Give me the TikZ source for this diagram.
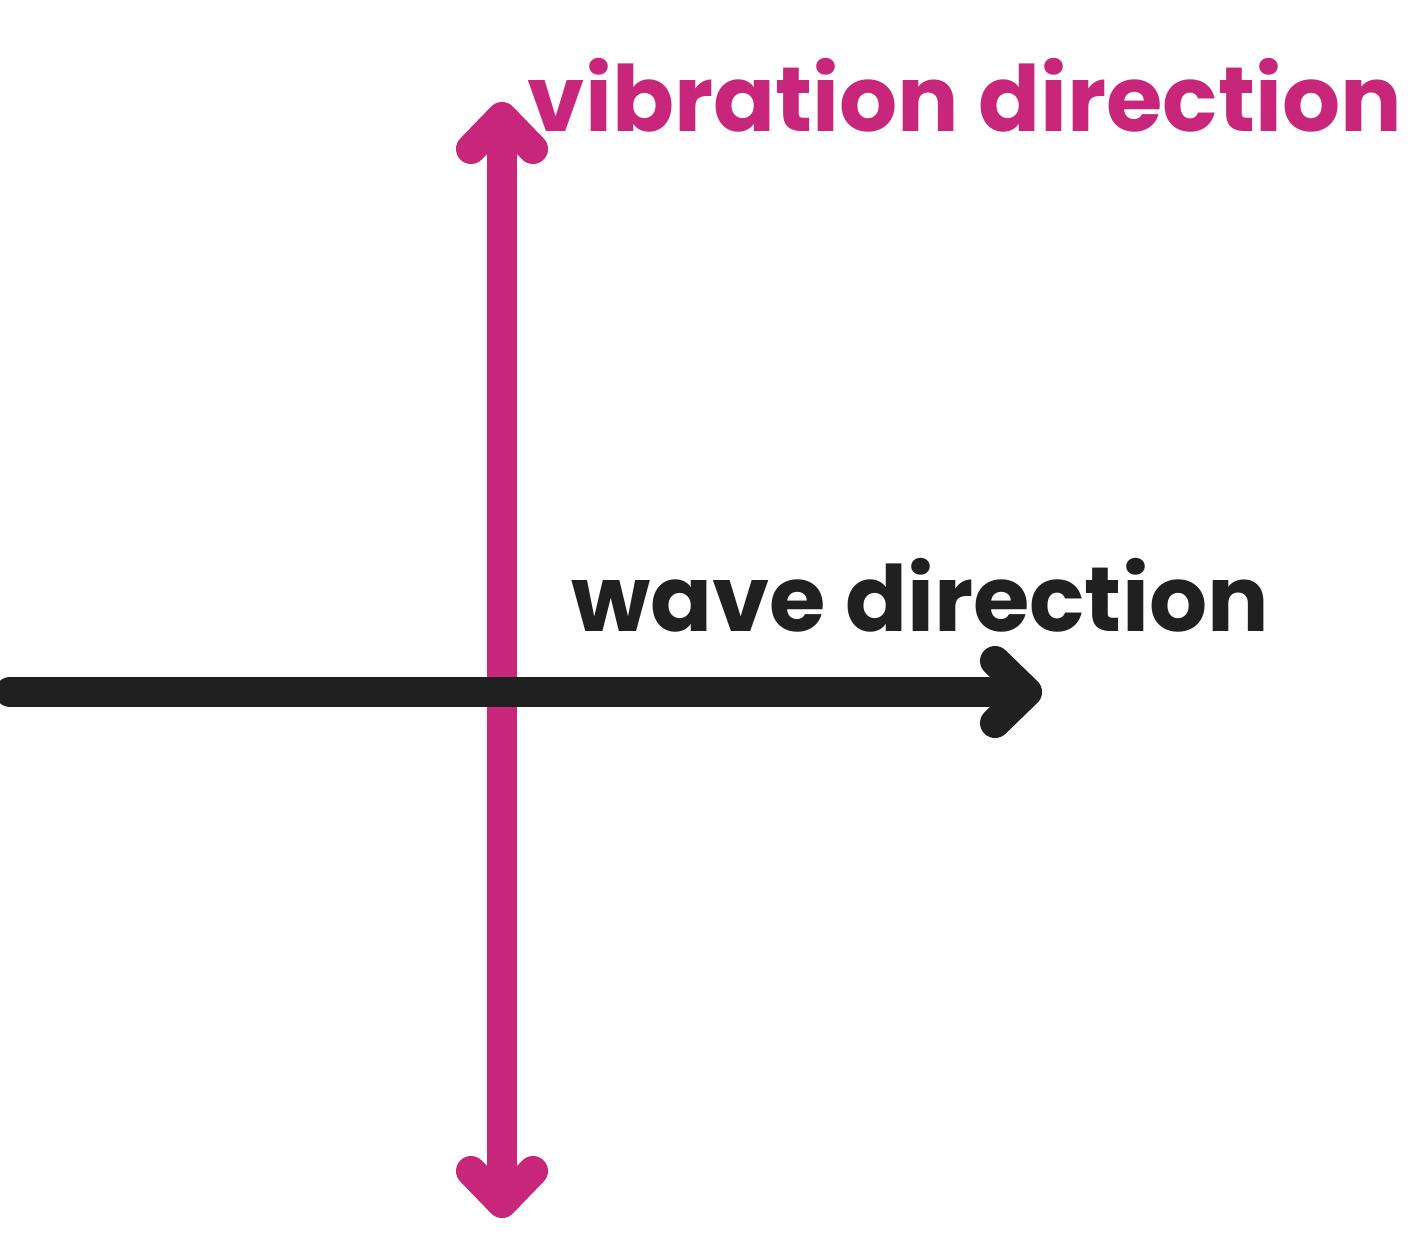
\documentclass[tikz,border=0pt]{standalone}
\usepackage{fontspec}
\setmainfont{Poppins}
\usetikzlibrary{arrows.meta}
\definecolor{vibpink}{HTML}{C8267A}
\definecolor{wavegray}{HTML}{202020}

\tikzset{
  barb/.tip={Straight Barb[round,length=0.32cm,width=0.62cm]},
  axisline/.style={line width=0.3cm, line cap=round},
  handtext/.style={font=\fontsize{26}{31}\selectfont\bfseries, inner sep=0pt}
}

\begin{document}
\begin{tikzpicture}
\useasboundingbox (0,0) rectangle (14.21,12.40);
\coordinate (vtop) at (5.02,11.38);
\coordinate (vbot) at (5.02,0.22);
\coordinate (wleft) at (0.10,5.48);
\coordinate (wright) at (10.42,5.48);
% vibration axis, both ways
\draw[axisline, vibpink, barb-barb] (vtop) -- (vbot);
% wave axis drawn on top
\draw[axisline, wavegray, -barb] (wleft) -- (wright);
\node[handtext, text=vibpink] (vibtext) at (9.65,11.45) {vibration direction};
\node[handtext, text=wavegray] (wavetext) at (9.20,6.45) {wave direction};
\end{tikzpicture}
\end{document}
